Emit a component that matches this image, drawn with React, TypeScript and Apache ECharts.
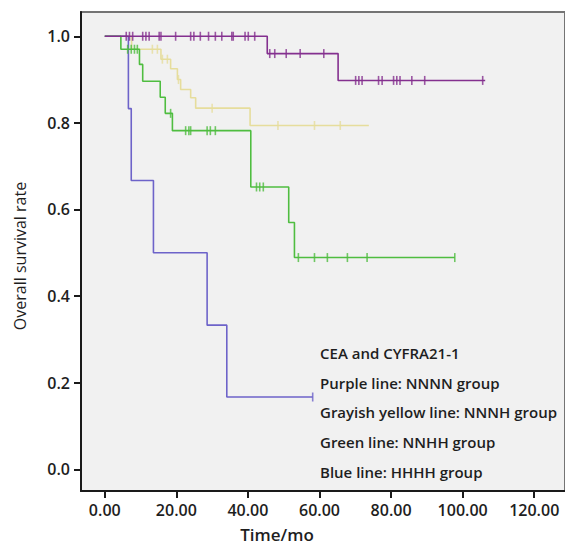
import React, { useEffect, useRef } from "react";
import * as echarts from "echarts";

const xTicks = [0, 20, 40, 60, 80, 100, 120];
const yTicks = [0, 0.2, 0.4, 0.6, 0.8, 1.0];

// Purple: NNNN group
const purpleTimes = [0, 45.4, 65.2, 106.3];
const purpleValues = [1, 0.96, 0.898, 0.898];
const purpleCensor = [6.0, 6.9, 7.8, 10.6, 11.5, 12.4, 15.2, 15.7, 19.8, 24.0, 24.9, 26.7, 29.0, 30.9, 32.7, 35.5, 35.9, 39.2, 40.1, 41.9,
  46.1, 47.5, 50.7, 54.6, 61.2,
  70.1, 71.0, 71.9, 76.5, 77.5, 80.7, 81.6, 82.5, 85.8, 89.4, 105.6];

// Grayish yellow: NNNH group
const yellowTimes = [0, 7.5, 15.7, 18.4, 20.3, 21.2, 24.0, 25.4, 40.6, 73.8];
const yellowValues = [1, 0.97, 0.947, 0.925, 0.9, 0.877, 0.858, 0.834, 0.794, 0.794];
const yellowCensor = [13.3, 14.7, 16.1, 17.5, 20.6, 30.0, 48.4, 58.6, 65.8];

// Green: NNHH group
const greenTimes = [0, 4.5, 9.7, 10.6, 15.5, 16.9, 18.9, 40.8, 51.4, 53.0, 97.8];
const greenValues = [1, 0.97, 0.935, 0.896, 0.859, 0.822, 0.782, 0.652, 0.57, 0.489, 0.489];
const greenCensor = [6.4, 7.4, 8.3, 9.1, 18.4, 22.6, 23.5, 24.0, 28.6, 29.5, 30.9, 42.4, 43.3, 44.3, 54.1, 58.6, 62.2, 67.8, 73.3, 97.8];

// Blue: HHHH group
const blueTimes = [0, 6.6, 7.4, 13.6, 28.6, 34.1, 58.1];
const blueValues = [1, 0.833, 0.667, 0.5, 0.333, 0.167, 0.167];
const blueCensor = [58.1];

const legendLines = [
  "CEA and CYFRA21-1",
  "Purple line: NNNN group",
  "Grayish yellow line: NNNH group",
  "Green line: NNHH group",
  "Blue line: HHHH group",
];

const FONT = "'Open Sans', 'Noto Sans', sans-serif";

function kmAt(times: number[], vals: number[], t: number) {
  let v = vals[0];
  for (let i = 0; i < times.length; i++) if (times[i] <= t) v = vals[i];
  return v;
}

function groupSeries(name: string, times: number[], vals: number[], censor: number[], color: string, z: number) {
  return [
    {
      name,
      type: "line",
      step: "end",
      showSymbol: false,
      data: times.map((t, i) => [t, vals[i]]),
      lineStyle: { color, width: 1.6 },
      z,
    },
    {
      name: name + " censored",
      type: "scatter",
      symbol: "rect",
      symbolSize: [1.6, 9],
      data: censor.map((t) => [t, kmAt(times, vals, t)]),
      itemStyle: { color },
      z: z + 0.1,
    },
  ];
}

export default function App() {
  const ref = useRef<HTMLDivElement>(null);
  useEffect(() => {
    if (!ref.current) return;
    const chart = echarts.init(ref.current, undefined, { renderer: "svg" });
    chart.setOption({
      animation: false,
      backgroundColor: "#ffffff",
      grid: {
        left: 81,
        top: 12,
        bottom: 56,
        right: -5,
        show: true,
        backgroundColor: "#f1f1f1",
        borderColor: "#747474",
        borderWidth: 2,
      },
      xAxis: {
        type: "value",
        min: -6.64,
        max: 128.6,
        splitLine: { show: false },
        axisLine: { show: true, onZero: false, lineStyle: { color: "#1a1a1a", width: 2 } },
        axisTick: { show: true, customValues: xTicks, length: 7, lineStyle: { color: "#1a1a1a", width: 2 } },
        axisLabel: {
          customValues: xTicks,
          formatter: (v: number) => v.toFixed(2),
          color: "#1e1e1e",
          fontFamily: FONT,
          fontWeight: 600,
          fontSize: 16,
          margin: 11,
        },
      },
      yAxis: {
        type: "value",
        min: -0.05,
        max: 1.056,
        splitLine: { show: false },
        axisLine: { show: true, onZero: false, lineStyle: { color: "#1a1a1a", width: 2 } },
        axisTick: { show: true, customValues: yTicks, length: 7, lineStyle: { color: "#1a1a1a", width: 2 } },
        axisLabel: {
          customValues: yTicks,
          formatter: (v: number) => v.toFixed(1),
          color: "#1e1e1e",
          fontFamily: FONT,
          fontWeight: 600,
          fontSize: 16,
          margin: 11,
        },
      },
      series: [
        ...groupSeries("NNNH", yellowTimes, yellowValues, yellowCensor, "#e6dd9c", 2),
        ...groupSeries("HHHH", blueTimes, blueValues, blueCensor, "#6d63c9", 3),
        ...groupSeries("NNHH", greenTimes, greenValues, greenCensor, "#4fbd40", 4),
        ...groupSeries("NNNN", purpleTimes, purpleValues, purpleCensor, "#84308f", 5),
      ],
      graphic: [
        {
          type: "text",
          x: 20,
          y: 256,
          rotation: Math.PI / 2,
          style: {
            text: "Overall survival rate",
            font: `500 16px ${FONT}`,
            fill: "#1e1e1e",
            align: "center",
            verticalAlign: "middle",
          },
        },
        {
          type: "text",
          x: 277,
          y: 534,
          style: {
            text: "Time/mo",
            font: `600 17px ${FONT}`,
            fill: "#1e1e1e",
            align: "center",
            verticalAlign: "middle",
          },
        },
        ...legendLines.map((t, i) => ({
          type: "text",
          x: 320,
          y: 353 + i * 29.7,
          z: 10,
          style: {
            text: t,
            font: `600 15px ${FONT}`,
            fill: "#1e1e1e",
            align: "left",
            verticalAlign: "middle",
          },
        })),
      ],
    });
    return () => chart.dispose();
  }, []);
  return <div ref={ref} style={{ width: 565, height: 547, position: "absolute", left: 0, top: 0 }} />;
}
